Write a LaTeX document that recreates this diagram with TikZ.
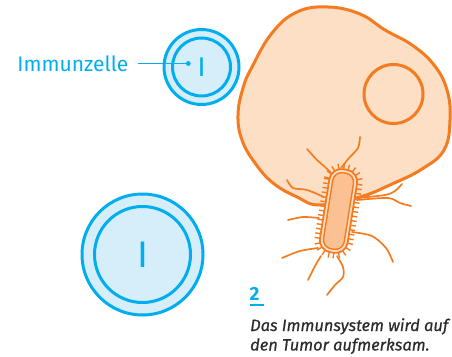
\documentclass[tikz,border=0pt]{standalone}
\usepackage{fontspec}
\setmainfont{Fira Sans}
\newfontfamily\legendenschrift{Fira Sans}[FakeBold=0.5]
\usetikzlibrary{decorations.markings}
\definecolor{zellblau}{HTML}{00AEEF}
\definecolor{zellhell}{HTML}{D5EEFA}
\definecolor{tumorrand}{HTML}{F47B20}
\definecolor{tumorhell}{HTML}{FDDFC6}
\definecolor{bakterie}{HTML}{FBC193}
\definecolor{textgrau}{HTML}{2B2B2B}

\begin{document}
\begin{tikzpicture}[x=1pt, y=-1pt,
	zelle/.style={circle, draw=zellblau, line width=3pt, fill=zellhell, inner sep=0pt},
	kern/.style={circle, draw=zellblau, line width=3pt, inner sep=0pt, text=zellblau},
	geissel/.style={draw=tumorrand, line width=1.7pt, line cap=round},
	stachel/.style={postaction={decorate, decoration={markings,
		mark=between positions 0 and 1 step 4.6pt with {\draw[tumorrand, line width=1.4pt] (0pt,0pt) -- (0pt,-5.5pt);}}}}]
	\useasboundingbox (0,0) rectangle (452,356);
	% Immunzellen
	\node[zelle, minimum size=75pt] (Z1) at (201.5,67) {};
	\node[kern, minimum size=58pt, font=\fontsize{27}{27}\selectfont] (K1) at (Z1) {I};
	\node[zelle, minimum size=121pt] (Z2) at (142.5,254.5) {};
	\node[kern, minimum size=96pt, font=\fontsize{37}{37}\selectfont] (K2) at (Z2) {I};
	\node[text=zellblau, font=\fontsize{21}{21}\selectfont, anchor=east, inner sep=0pt] (L) at (128.5,63.5) {Immunzelle};
	\coordinate (P) at (188.3,63.5);
	\draw[zellblau, line width=1.3pt, shorten <=9.5pt] (L.east) -- (P);
	\fill[zellblau] (P) circle (2.4);
	% Tumor
	\draw[tumorrand, line width=3pt, fill=tumorhell] plot[smooth cycle, tension=0.7] coordinates {
		(328,7) (360,14) (385,30) (412,45) (434,65) (447,90) (450,120) (444,150) (422,169)
		(392,184) (360,197) (320,205) (297,197) (273,183) (255,163) (242,140) (238,115)
		(243,88) (252,67) (272,33) (297,12)};
	\node[circle, draw=tumorrand, line width=3pt, minimum size=59pt, inner sep=0pt] (N) at (393.5,94) {};
	% Geisseln
	\draw[geissel] plot[smooth] coordinates {(341,168) (349,158) (358,148) (360,137)};
	\draw[geissel] plot[smooth] coordinates {(307,149) (317,160) (325,167) (333,175)};
	\draw[geissel] plot[smooth] coordinates {(287,180) (293,188) (307,190) (324,197)};
	\draw[geissel] plot[smooth] coordinates {(288,220) (303,217) (319,218)};
	\draw[geissel] plot[smooth] coordinates {(282,258) (300,251) (318,248)};
	\draw[geissel] plot[smooth] coordinates {(321,256) (315,266) (308,280)};
	\draw[geissel] plot[smooth] coordinates {(337,256) (343,267) (343,277) (335,285) (327,295)};
	\draw[geissel] plot[smooth] coordinates {(352,232) (372,236) (386,248) (393,262)};
	\draw[geissel] plot[smooth] coordinates {(357,198) (385,195) (395,191) (402,184)};
	\draw[geissel] plot[smooth] coordinates {(357,200) (388,198) (400,203) (411,206)};
	% Bakterium
	\begin{scope}[shift={(338.5,211)}, rotate=-9]
		\draw[tumorrand, line width=1.8pt, fill=tumorhell, rounded corners=12pt, stachel] (-14,-42) rectangle (14,42);
		\draw[tumorrand, line width=1.4pt, fill=bakterie, rounded corners=9pt] (-10.5,-38.5) rectangle (10.5,38.5);
	\end{scope}
	% Legende
	\node[text=zellblau, font=\bfseries\fontsize{19}{19}\selectfont, anchor=base west, inner sep=0pt] (Nr) at (249.5,300) {2};
	\draw[zellblau, line width=2pt] (249.5,305) -- (263.5,305);
	\node[text=textgrau, font=\legendenschrift\itshape\fontsize{16.4}{16.4}\selectfont, anchor=base west, inner sep=0pt] (T1) at (250,331) {Das Immunsystem wird auf};
	\node[text=textgrau, font=\legendenschrift\itshape\fontsize{16.4}{16.4}\selectfont, anchor=base west, inner sep=0pt] (T2) at (250,350.5) {den Tumor aufmerksam.};
\end{tikzpicture}
\end{document}
